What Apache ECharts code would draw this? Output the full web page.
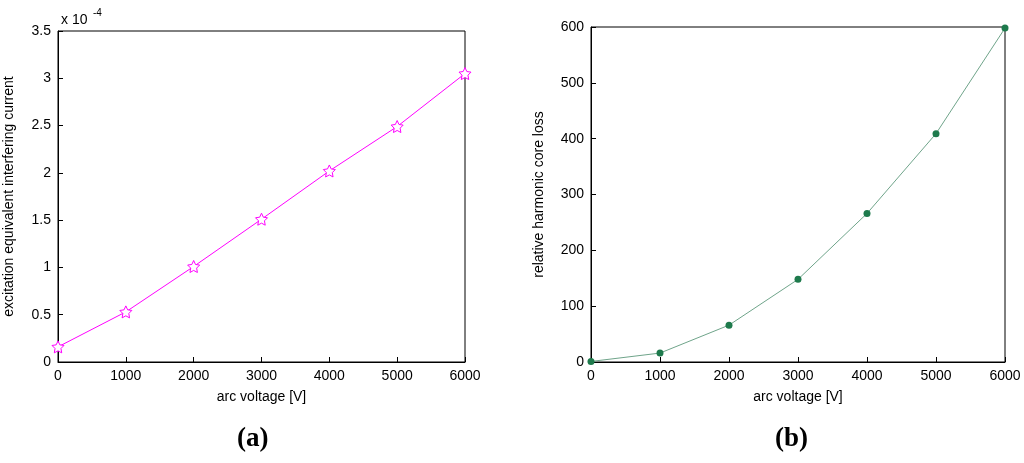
<!DOCTYPE html>
<html><head><meta charset="utf-8">
<script src="https://cdn.jsdelivr.net/npm/echarts@6/dist/echarts.min.js"></script>
<style>body{margin:0;background:#fff}#c{width:1024px;height:463px}</style>
</head><body><div id="c"></div>
<script>
let voltage = [0, 1000, 2000, 3000, 4000, 5000, 6000];
let current = [0.16, 0.53, 1.01, 1.51, 2.02, 2.49, 3.05]; // x 1e-4
let coreLoss = [1, 16, 66, 148, 266, 409, 598];

let chart = echarts.init(document.getElementById('c'));
let font = 'Arial, Liberation Sans, sans-serif';

function xAxis(idx) {
  return {
    gridIndex: idx, type: 'value', min: 0, max: 6000, interval: 1000,
    name: 'arc voltage [V]', nameLocation: 'middle', nameGap: 28,
    nameTextStyle: {fontFamily: font, fontSize: 14, color: '#000'},
    axisLine: {lineStyle: {color: '#000'}},
    axisTick: {inside: true, length: 5, lineStyle: {color: '#000'}},
    axisLabel: {fontFamily: font, fontSize: 14, color: '#000', margin: 7, formatter: v => String(v)},
    splitLine: {show: false}
  };
}
function yAxis(idx, max, interval, name) {
  return {
    gridIndex: idx, type: 'value', min: 0, max: max, interval: interval,
    name: name, nameLocation: 'middle', nameGap: idx === 0 ? 42 : 45,
    nameTextStyle: {fontFamily: font, fontSize: 14, color: '#000'},
    axisLine: {lineStyle: {color: '#000'}},
    axisTick: {inside: true, length: 5, lineStyle: {color: '#000'}},
    axisLabel: {fontFamily: font, fontSize: 14, color: '#000', margin: 7, formatter: v => String(v)},
    splitLine: {show: false}
  };
}

chart.setOption({
  animation: false,
  grid: [
    {left: 58, top: 31, width: 407, height: 331, show: true, borderColor: '#000', borderWidth: 1},
    {left: 591, top: 27, width: 414, height: 335, show: true, borderColor: '#000', borderWidth: 1}
  ],
  title: [
    {text: 'x 10', left: 56, top: 8, textStyle: {fontFamily: font, fontSize: 14, fontWeight: 'normal', color: '#000'}},
    {text: '-4', left: 88, top: 3, textStyle: {fontFamily: font, fontSize: 10, fontWeight: 'normal', color: '#000'}},
    {text: '(a)', left: 232, top: 421, textStyle: {fontFamily: 'Liberation Serif, serif', fontSize: 27, fontWeight: 'bold', color: '#000'}},
    {text: '(b)', left: 770, top: 421, textStyle: {fontFamily: 'Liberation Serif, serif', fontSize: 27, fontWeight: 'bold', color: '#000'}}
  ],
  xAxis: [xAxis(0), xAxis(1)],
  yAxis: [
    yAxis(0, 3.5, 0.5, 'excitation equivalent interfering current'),
    yAxis(1, 600, 100, 'relative harmonic core loss')
  ],
  series: [
    {type: 'line', xAxisIndex: 0, yAxisIndex: 0,
     data: voltage.map((v, i) => [v, current[i]]),
     symbol: 'path://M0,-10 L2.9,-4 9.5,-3.1 4.7,1.5 5.9,8.1 0,5 -5.9,8.1 -4.7,1.5 -9.5,-3.1 -2.9,-4 Z',
     symbolSize: 12,
     lineStyle: {color: '#ff00ff', width: 1},
     itemStyle: {color: '#fff', borderColor: '#ff00ff', borderWidth: 1}},
    {type: 'line', xAxisIndex: 1, yAxisIndex: 1,
     data: voltage.map((v, i) => [v, coreLoss[i]]),
     symbol: 'circle', symbolSize: 7,
     lineStyle: {color: '#6fa48a', width: 1},
     itemStyle: {color: '#1e7a4c'}}
  ]
});
</script></body></html>
